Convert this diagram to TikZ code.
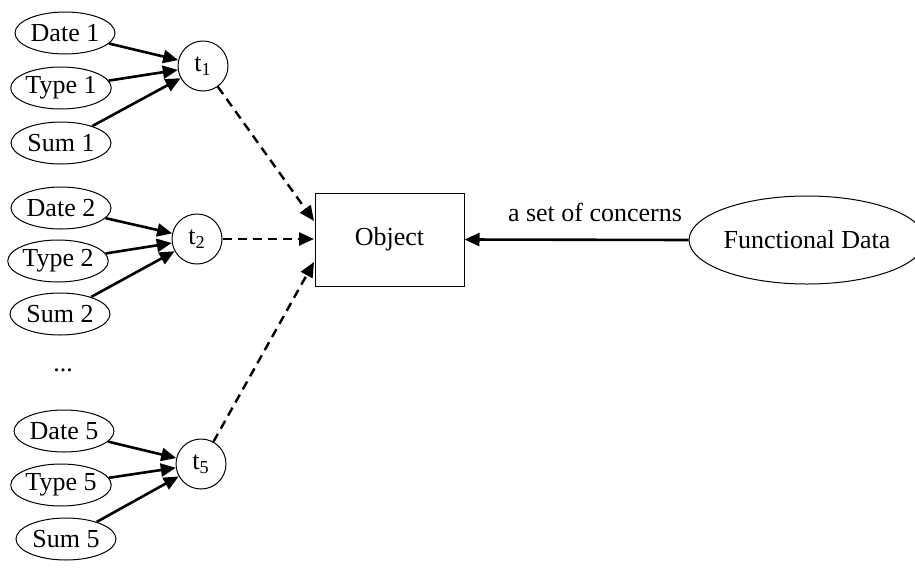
\documentclass[tikz,border=0pt]{standalone}
\usepackage{fontspec}
\setmainfont{Liberation Serif}
\usetikzlibrary{arrows.meta,shapes.geometric}
\begin{document}
\begin{tikzpicture}[x=0.5pt,y=-0.5pt,
 font=\fontsize{13}{15.5}\selectfont,
 el/.style={draw,ellipse,line width=0.5pt,minimum width=50pt,minimum height=21pt,inner sep=0pt},
 tn/.style={draw,circle,line width=0.5pt,minimum size=25pt,inner sep=0pt},
 box/.style={draw,rectangle,line width=0.5pt,minimum width=74.5pt,minimum height=46.5pt,inner sep=0pt},
 solidarrow/.style={line width=1.3pt,-{Triangle[length=7.5pt,width=6.5pt]}},
 dasharrow/.style={line width=1.2pt,dash pattern=on 4.5pt off 3pt,-{Triangle[length=7.5pt,width=6.5pt]}}]
\useasboundingbox (0,0) rectangle (915,568);
% group 1
\node[el] (d1) at (65,33) {Date 1};
\node[el] (ty1) at (61,88) {Type 1};
\node[el] (s1) at (61,143) {Sum 1};
\node[tn] (t1) at (203,66) {t\textsubscript{1}};
% group 2
\node[el] (d2) at (61,208) {Date 2};
\node[el] (ty2) at (58,261) {Type 2};
\node[el] (s2) at (60,314) {Sum 2};
\node[tn] (t2) at (197,239) {t\textsubscript{2}};
% dots
\node (dots) at (63,370) {...};
% group 5
\node[el] (d5) at (64,431) {Date 5};
\node[el] (ty5) at (61,485) {Type 5};
\node[el] (s5) at (66,539) {Sum 5};
\node[tn] (t5) at (201,464) {t\textsubscript{5}};
% object and functional data
\node[box] (obj) at (389.5,239.5) {Object};
\node[el,minimum width=106pt,minimum height=44pt] (fd) at (807,240) {Functional Data};
\node (lbl) at (595,212) {a set of concerns};
\coordinate (o1) at (314,221);
\coordinate (o2) at (314,239);
\coordinate (o5) at (314,262);
% arrows
\foreach \a/\b in {d1/t1,ty1/t1,s1/t1,d2/t2,ty2/t2,s2/t2,d5/t5,ty5/t5,s5/t5}
  \draw[solidarrow] (\a) -- (\b);
\draw[dasharrow] (t1) -- (o1);
\draw[dasharrow] (t2) -- (o2);
\draw[dasharrow] (t5) -- (o5);
\draw[solidarrow] (fd.west) -- (obj.east);
\end{tikzpicture}
\end{document}
